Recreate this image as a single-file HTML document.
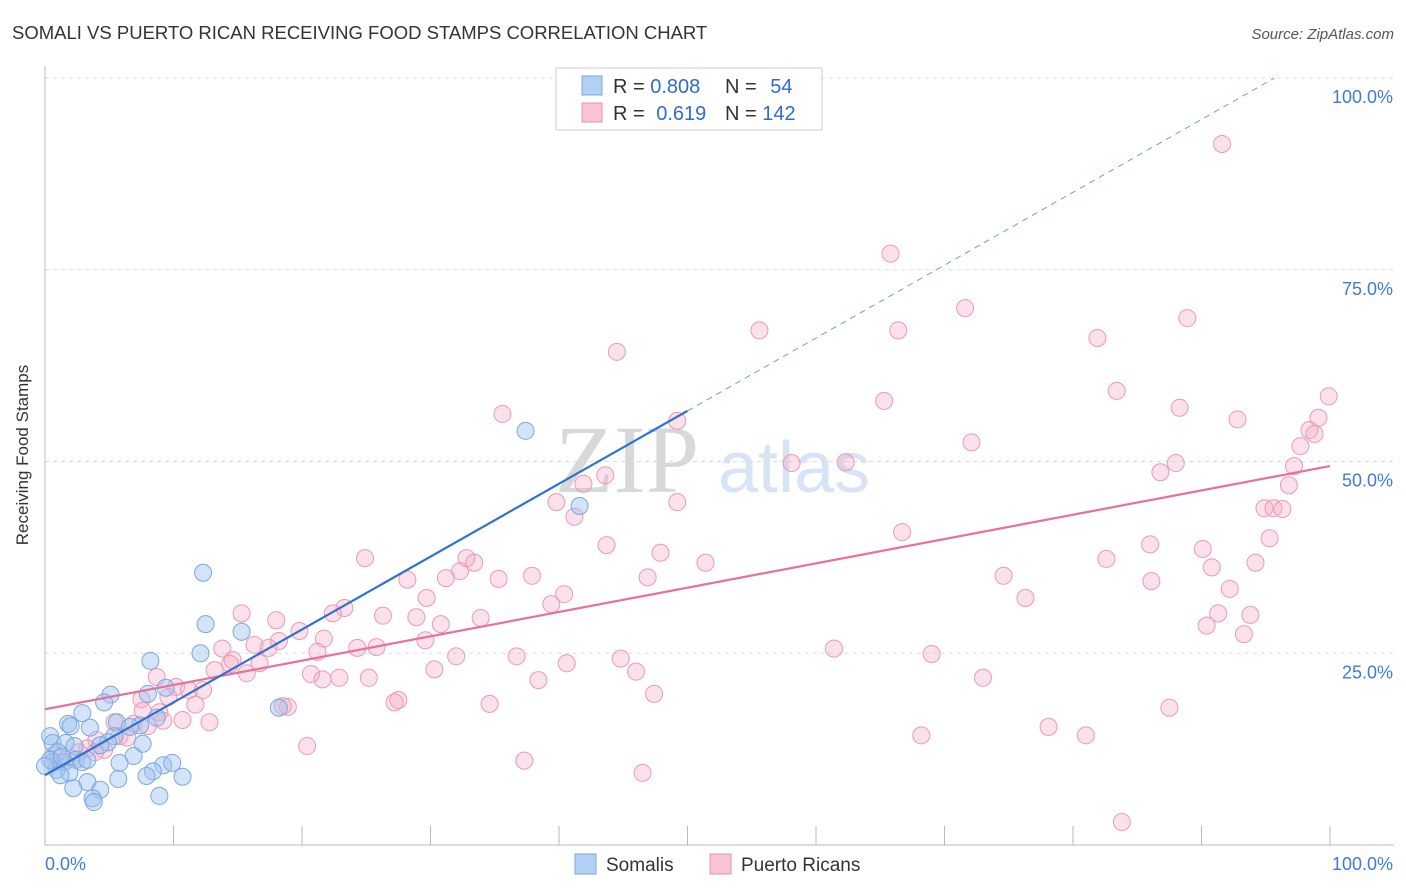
<!DOCTYPE html>
<html><head><meta charset="utf-8">
<style>
body{margin:0;background:#fff;font-family:"Liberation Sans",sans-serif;}
#wrap{position:relative;width:1406px;height:892px;overflow:hidden;}
</style></head>
<body>
<div id="wrap">
<svg id="chart" width="1406" height="892" xmlns="http://www.w3.org/2000/svg">
<text x="12" y="39" font-size="18.5" fill="#333">SOMALI VS PUERTO RICAN RECEIVING FOOD STAMPS CORRELATION CHART</text>
<text x="1394" y="39" font-size="15" fill="#555" font-style="italic" text-anchor="end">Source: ZipAtlas.com</text>
<g opacity="0.45">
<text x="555" y="492" font-size="96" font-family="Liberation Serif,serif" fill="#aaa">ZIP</text>
<text x="718" y="492" font-size="72" fill="#a8c4ea">atlas</text>
</g>
<g id="grid"></g>
<g id="axes"></g>
<g id="pts"></g>
<g id="lines"></g>
<text x="28" y="455" font-size="17" fill="#333" text-anchor="middle" transform="rotate(-90 28 455)">Receiving Food Stamps</text>
<g>
<rect x="556" y="68" width="266" height="62" fill="#fff" stroke="#ccc"/>
<rect x="582" y="76" width="20" height="19" fill="#b3cff3" stroke="#7aaae0"/>
<rect x="582" y="103" width="20" height="19" fill="#f9c4d3" stroke="#e890aa"/>
<text x="613" y="93" font-size="20" fill="#333">R = <tspan fill="#2f6bcf">0.808</tspan></text>
<text x="725" y="93" font-size="20" fill="#333">N = <tspan fill="#2f6bcf" dx="8">54</tspan></text>
<text x="613" y="120" font-size="20" fill="#333">R = <tspan fill="#2f6bcf" dx="6">0.619</tspan></text>
<text x="725" y="120" font-size="20" fill="#333">N = <tspan fill="#2f6bcf">142</tspan></text>
</g>
<g>
<rect x="575" y="854" width="21" height="20" fill="#b3cff3" stroke="#7aaae0"/>
<text x="606" y="871" font-size="19" fill="#333">Somalis</text>
<rect x="710" y="854" width="21" height="20" fill="#f9c4d3" stroke="#e890aa"/>
<text x="741" y="871" font-size="19" fill="#333">Puerto Ricans</text>
</g>
</svg>
</div>
<script>
const yTicks=[0,25,50,75,100];
const yTickLabels=["","25.0%","50.0%","75.0%","100.0%"];
const xTicks=[0,10,20,30,40,50,60,70,80,90,100];
const somaliX=[37.4,41.6,12.3,12.5,15.3,8.2,12.1,9.4,8.0,5.1,4.6,18.2,2.9,1.8,2.0,5.6,3.5,8.7,7.4,6.6,0.4,0.6,1.6,2.3,5.4,4.9,7.6,4.3,6.9,1.0,0.6,1.5,2.4,2.9,3.3,5.8,9.2,9.9,0.9,8.4,1.9,1.2,7.9,10.7,5.7,3.3,2.2,4.3,8.9,3.7,3.8,0.4,0,1.3];
const somaliY=[54.0,44.2,35.5,28.8,27.8,24.0,25.0,20.5,19.7,19.6,18.6,17.9,17.2,15.8,15.5,16.0,15.3,16.6,15.6,15.4,14.2,13.3,13.3,12.9,14.2,13.4,13.2,13.0,11.6,12.1,10.8,10.8,11.1,10.8,11.1,10.7,10.4,10.7,9.8,9.6,9.4,9.1,9.0,8.9,8.6,8.2,7.4,7.2,6.4,6.1,5.6,11.1,10.3,11.5];
const prX=[91.6,65.8,71.6,55.6,66.4,81.9,88.9,44.5,83.4,99.9,65.3,88.3,35.6,92.8,99.1,49.2,98.4,98.8,72.1,97.7,58.1,62.3,88.0,86.8,97.2,43.6,41.9,96.8,39.8,49.2,94.9,95.6,96.3,41.2,66.7,95.3,86.0,43.7,90.1,24.9,47.9,82.6,32.8,33.4,94.2,90.8,51.4,32.3,31.2,35.3,37.9,28.2,46.9,74.6,86.1,92.2,40.4,29.7,76.3,39.4,23.3,15.3,22.4,26.3,28.9,91.3,93.8,33.9,18.0,30.8,19.8,90.4,93.3,29.6,21.7,18.2,16.3,24.3,25.8,21.2,61.4,17.4,13.8,32.0,36.7,69.0,14.6,44.8,14.4,13.2,40.6,30.3,16.7,46.0,15.7,20.7,22.9,21.6,25.2,73.0,38.4,8.7,10.2,11.2,47.4,12.3,7.5,9.6,11.7,27.5,27.2,34.6,18.9,18.5,8.9,87.5,12.8,5.4,10.7,6.9,8.0,9.2,5.8,4.0,78.1,68.2,81.0,20.4,3.3,4.6,2.6,0.7,1.3,2.1,3.9,37.3,46.5,83.8,7.6,6.4];
const prY=[91.4,77.1,70.0,67.1,67.1,66.1,68.7,64.3,59.2,58.5,57.9,57.0,56.2,55.5,55.7,55.3,54.1,53.6,52.5,52.0,49.8,49.9,49.8,48.6,49.4,48.2,47.1,46.9,44.7,44.7,43.9,43.9,43.8,42.8,40.8,40.0,39.2,39.1,38.6,37.4,38.1,37.3,37.4,36.8,36.8,36.2,36.8,35.7,34.8,34.7,35.1,34.6,34.9,35.1,34.4,33.4,32.7,32.2,32.2,31.4,30.9,30.2,30.2,29.9,29.7,30.2,30.0,29.6,29.3,28.8,27.9,28.6,27.5,26.7,26.9,26.6,26.1,25.7,25.8,25.2,25.6,25.7,25.6,24.6,24.6,24.9,24.1,24.3,23.6,22.8,23.7,22.9,23.7,22.6,22.4,22.3,21.8,21.6,21.8,21.8,21.5,21.9,20.6,20.2,19.7,20.2,19.0,19.3,18.3,18.9,18.6,18.4,18.0,18.1,17.3,17.9,16.0,16.0,16.3,15.8,15.5,16.2,14.2,13.7,15.4,14.3,14.3,12.9,12.6,12.4,12.1,11.7,10.8,11.3,12.1,11.0,9.4,3.0,17.5,14.0];
const somaliTrend=[9.1,0.95];
const prTrend=[17.7,0.317];

const NS="http://www.w3.org/2000/svg";
const X0=45,X1=1330,Y0=845,Y100=78;
const xs=v=>X0+(X1-X0)*v/100;
const ys=v=>Y0-(Y0-Y100)*v/100;
function mk(tag,attrs,parent){const e=document.createElementNS(NS,tag);for(const k in attrs)e.setAttribute(k,attrs[k]);parent.appendChild(e);return e;}
const grid=document.getElementById('grid'),axes=document.getElementById('axes'),pts=document.getElementById('pts'),lines=document.getElementById('lines');
yTicks.forEach((t,i)=>{
 if(t>0){const l=mk('line',{x1:X0,x2:1394,y1:ys(t),y2:ys(t),stroke:'#ddd','stroke-dasharray':'4,4'},grid);
 
 
 const tx=mk('text',{x:1393,y:ys(t)+25,'font-size':18,fill:'#3f7bd6','text-anchor':'end'},axes);tx.textContent=yTickLabels[i];
 
 }
});
const ax=mk('line',{x1:X0,x2:X0,y1:66,y2:Y0,stroke:'#bbb'},axes);


const xl=mk('line',{x1:X0,x2:1394,y1:Y0,y2:Y0,stroke:'#bbb'},axes);


xTicks.forEach(t=>{const l=mk('line',{x1:xs(t),x2:xs(t),y1:Y0,y2:826,stroke:'#bbb'},axes);
 
 });
const xa=mk('text',{x:45,y:870,'font-size':18,fill:'#3f7bd6'},axes);xa.textContent='0.0%';


const xb=mk('text',{x:1393,y:870,'font-size':18,fill:'#3f7bd6','text-anchor':'end'},axes);xb.textContent='100.0%';



prX.forEach((x,i)=>{const c=mk('circle',{cx:xs(x),cy:ys(prY[i]),r:8.5,fill:'rgba(245,170,195,0.35)',stroke:'#eb9ab3','stroke-width':1},pts);
 
 });
somaliX.forEach((x,i)=>{const c=mk('circle',{cx:xs(x),cy:ys(somaliY[i]),r:8.5,fill:'rgba(160,195,240,0.45)',stroke:'#7aa8e0','stroke-width':1},pts);
 
 });

const pl=mk('line',{x1:xs(0),y1:ys(prTrend[0]),x2:xs(100),y2:ys(prTrend[0]+prTrend[1]*100),stroke:'#e8709a','stroke-width':2.2},lines);


const bl=mk('line',{x1:xs(0),y1:ys(somaliTrend[0]),x2:xs(50),y2:ys(somaliTrend[0]+somaliTrend[1]*50),stroke:'#2f72d6','stroke-width':2.2},lines);


const xEnd=Math.min(100,(100-somaliTrend[0])/somaliTrend[1]);
const bd=mk('line',{x1:xs(50),y1:ys(somaliTrend[0]+somaliTrend[1]*50),x2:xs(xEnd),y2:ys(somaliTrend[0]+somaliTrend[1]*xEnd),stroke:'#6d9ee0','stroke-width':1,'stroke-dasharray':'6,5'},lines);


</script>
</body></html>
